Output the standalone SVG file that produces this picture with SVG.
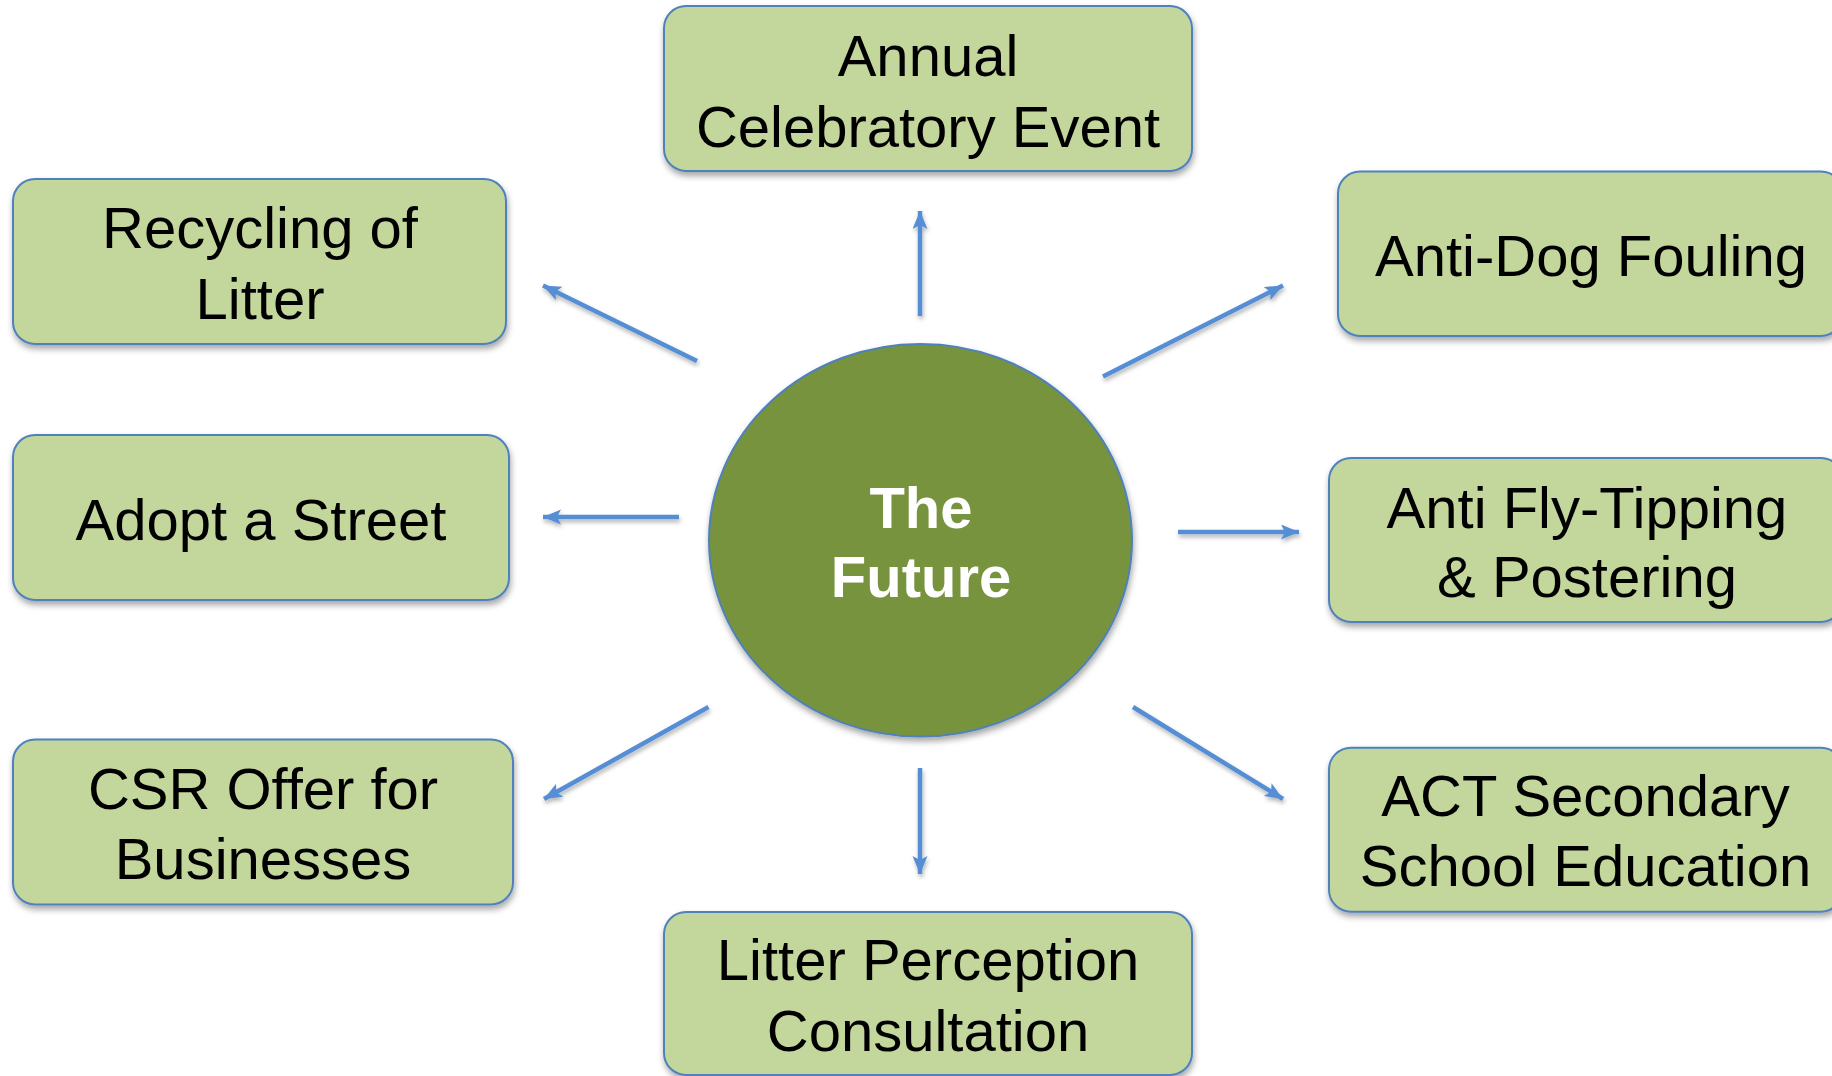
<svg xmlns="http://www.w3.org/2000/svg" width="1832" height="1076" viewBox="0 0 1832 1076">
<defs>
<filter id="sh" x="-10%" y="-10%" width="120%" height="130%">
<feDropShadow dx="1" dy="4" stdDeviation="3" flood-color="#000" flood-opacity="0.35"/>
</filter>
<filter id="ash" x="-20%" y="-50%" width="140%" height="200%">
<feDropShadow dx="1" dy="3" stdDeviation="2" flood-color="#000" flood-opacity="0.3"/>
</filter>
<marker id="ah" markerUnits="userSpaceOnUse" markerWidth="20" markerHeight="16" refX="18" refY="7.5" orient="auto">
<path d="M0,0 L18,7.5 L0,15 L4,7.5 z" fill="#558ED5"/>
</marker>
</defs>
<style>
.box{fill:#C3D69B;stroke:#4F81BD;stroke-width:2;filter:url(#sh)}
.lbl{font-family:"Liberation Sans",Arial,sans-serif;font-size:58px;fill:#000;text-anchor:middle}
.ctr{font-family:"Liberation Sans",Arial,sans-serif;font-size:58px;font-weight:bold;fill:#fff;text-anchor:middle}
.arr{stroke:#558ED5;stroke-width:4.5;fill:none;marker-end:url(#ah)}
</style>
<rect width="1832" height="1076" fill="#fff"/>
<g id="connectors" filter="url(#ash)">
<line class="arr" x1="920" y1="316" x2="920" y2="211"/>
<line class="arr" x1="697" y1="361" x2="543" y2="285.5"/>
<line class="arr" x1="679" y1="517" x2="543" y2="517"/>
<line class="arr" x1="708.5" y1="707" x2="544" y2="799"/>
<line class="arr" x1="920" y1="768" x2="920" y2="874"/>
<line class="arr" x1="1133" y1="707" x2="1283" y2="799"/>
<line class="arr" x1="1178" y1="532" x2="1299" y2="532"/>
<line class="arr" x1="1103" y1="376.5" x2="1283" y2="285.5"/>
</g>
<g id="center">
<ellipse cx="920.5" cy="540.3" rx="211.5" ry="196.3" fill="#77933C" stroke="#4F81BD" stroke-width="2" filter="url(#sh)"/>
<text class="ctr" x="921" y="527.7">The</text>
<text class="ctr" x="921" y="596.7">Future</text>
</g>
<g id="annual">
<rect class="box" x="664" y="6" width="528" height="165" rx="22"/>
<text class="lbl" x="928" y="76">Annual</text>
<text class="lbl" x="928" y="147">Celebratory Event</text>
</g>
<g id="recycling">
<rect class="box" x="13" y="179" width="493" height="165" rx="22"/>
<text class="lbl" x="260" y="248">Recycling of</text>
<text class="lbl" x="260" y="318.5">Litter</text>
</g>
<g id="adopt">
<rect class="box" x="13" y="435" width="496" height="165" rx="22"/>
<text class="lbl" x="261" y="540">Adopt a Street</text>
</g>
<g id="csr">
<rect class="box" x="13" y="739.5" width="500" height="165" rx="22"/>
<text class="lbl" x="263" y="808.5">CSR Offer for</text>
<text class="lbl" x="263" y="878.5">Businesses</text>
</g>
<g id="litter">
<rect class="box" x="664" y="912" width="528" height="163" rx="22"/>
<text class="lbl" x="928" y="980">Litter Perception</text>
<text class="lbl" x="928" y="1051">Consultation</text>
</g>
<g id="antidog">
<rect class="box" x="1338" y="171.5" width="505" height="164.5" rx="22"/>
<text class="lbl" x="1591" y="275.6">Anti-Dog Fouling</text>
</g>
<g id="antifly">
<rect class="box" x="1329" y="458" width="514" height="164" rx="22"/>
<text class="lbl" x="1587" y="527.5">Anti Fly-Tipping</text>
<text class="lbl" x="1587" y="597">&amp; Postering</text>
</g>
<g id="act">
<rect class="box" x="1329" y="747.7" width="514" height="164" rx="22"/>
<text class="lbl" x="1585.5" y="815.5">ACT Secondary</text>
<text class="lbl" x="1585.5" y="886.3">School Education</text>
</g>
</svg>
